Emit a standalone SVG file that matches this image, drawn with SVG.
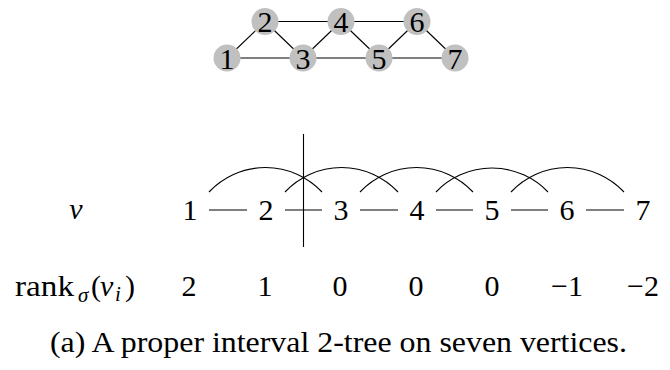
<svg xmlns="http://www.w3.org/2000/svg" width="670" height="370" viewBox="0 0 670 370" font-family="Liberation Serif">
<style>
.t{font-size:30px;fill:#000}
.n{text-anchor:middle}
.m{text-anchor:middle}
.e{stroke:#000;stroke-width:1.1;fill:none}
.nd{fill:#c0c0c0;stroke:none}
</style>
<rect width="670" height="370" fill="#fff"/>
<g id="connectors">
<line class="e" x1="227" y1="58" x2="265" y2="21.5"/>
<line class="e" x1="227" y1="58" x2="303" y2="58"/>
<line class="e" x1="265" y1="21.5" x2="303" y2="58"/>
<line class="e" x1="265" y1="21.5" x2="341" y2="21.5"/>
<line class="e" x1="303" y1="58" x2="341" y2="21.5"/>
<line class="e" x1="303" y1="58" x2="379" y2="58"/>
<line class="e" x1="341" y1="21.5" x2="379" y2="58"/>
<line class="e" x1="341" y1="21.5" x2="417" y2="21.5"/>
<line class="e" x1="379" y1="58" x2="417" y2="21.5"/>
<line class="e" x1="379" y1="58" x2="455" y2="58"/>
<line class="e" x1="417" y1="21.5" x2="455" y2="58"/>
</g>
<g id="node1"><circle class="nd" cx="227" cy="58" r="13.5"/><text class="t n" font-family="Liberation Serif" x="227" y="68.5">1</text></g>
<g id="node2"><circle class="nd" cx="265" cy="21.5" r="13.5"/><text class="t n" font-family="Liberation Serif" x="265" y="32">2</text></g>
<g id="node3"><circle class="nd" cx="303" cy="58" r="13.5"/><text class="t n" font-family="Liberation Serif" x="303" y="68.5">3</text></g>
<g id="node4"><circle class="nd" cx="341" cy="21.5" r="13.5"/><text class="t n" font-family="Liberation Serif" x="341" y="32">4</text></g>
<g id="node5"><circle class="nd" cx="379" cy="58" r="13.5"/><text class="t n" font-family="Liberation Serif" x="379" y="68.5">5</text></g>
<g id="node6"><circle class="nd" cx="417" cy="21.5" r="13.5"/><text class="t n" font-family="Liberation Serif" x="417" y="32">6</text></g>
<g id="node7"><circle class="nd" cx="455" cy="58" r="13.5"/><text class="t n" font-family="Liberation Serif" x="455" y="68.5">7</text></g>

<g id="order-connectors">
<line class="e" x1="209" y1="210" x2="247" y2="210"/>
<line class="e" x1="285" y1="210" x2="322" y2="210"/>
<line class="e" x1="360" y1="210" x2="398" y2="210"/>
<line class="e" x1="436" y1="210" x2="473" y2="210"/>
<line class="e" x1="511" y1="210" x2="548" y2="210"/>
<line class="e" x1="586" y1="210" x2="624" y2="210"/>
<path class="e" d="M209,192 A77.5,77.5 0 0 1 322,192"/>
<path class="e" d="M285,192 A77.5,77.5 0 0 1 398,192"/>
<path class="e" d="M360,192 A77.5,77.5 0 0 1 473,192"/>
<path class="e" d="M436,192 A77.5,77.5 0 0 1 548,192"/>
<path class="e" d="M511,192 A77.5,77.5 0 0 1 624,192"/>
<line class="e" x1="303.5" y1="134" x2="303.5" y2="247"/>
</g>

<g id="order">
<text class="t m" font-family="Liberation Serif" x="76" y="219" font-style="italic">v</text>
<text class="t m" font-family="Liberation Serif" x="190" y="220">1</text>
<text class="t m" font-family="Liberation Serif" x="266" y="220">2</text>
<text class="t m" font-family="Liberation Serif" x="341" y="220">3</text>
<text class="t m" font-family="Liberation Serif" x="417" y="220">4</text>
<text class="t m" font-family="Liberation Serif" x="492" y="220">5</text>
<text class="t m" font-family="Liberation Serif" x="567" y="220">6</text>
<text class="t m" font-family="Liberation Serif" x="643" y="220">7</text>
</g>

<g id="ranks">
<text class="t" font-family="Liberation Serif" x="15" y="296"><tspan textLength="59" lengthAdjust="spacingAndGlyphs">rank</tspan><tspan x="78" y="302" font-size="21" font-style="italic">σ</tspan><tspan x="91" y="296">(</tspan><tspan x="100" font-style="italic">v</tspan><tspan x="115" y="301" font-size="21" font-style="italic">i</tspan><tspan x="125" y="296">)</tspan></text>
<text class="t m" font-family="Liberation Serif" x="189" y="296">2</text>
<text class="t m" font-family="Liberation Serif" x="265" y="296">1</text>
<text class="t m" font-family="Liberation Serif" x="340" y="296">0</text>
<text class="t m" font-family="Liberation Serif" x="416" y="296">0</text>
<text class="t m" font-family="Liberation Serif" x="492" y="296">0</text>
<text class="t m" font-family="Liberation Serif" x="567" y="296">−1</text>
<text class="t m" font-family="Liberation Serif" x="643" y="296">−2</text>
</g>

<text class="t" font-family="Liberation Serif" x="50" y="352" font-size="28" textLength="577" lengthAdjust="spacingAndGlyphs">(a) A proper interval 2-tree on seven vertices.</text>
</svg>
